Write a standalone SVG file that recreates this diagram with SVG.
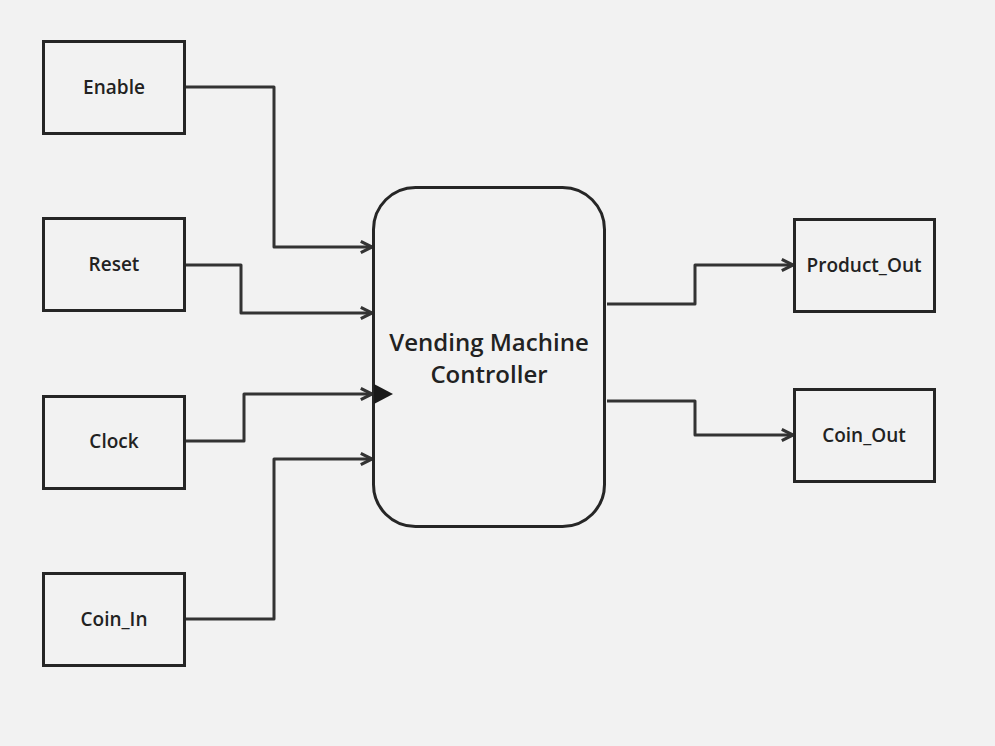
<svg xmlns="http://www.w3.org/2000/svg" width="995" height="746" viewBox="0 0 995 746">
<defs>
<style>
.box{fill:#f2f2f2;stroke:#262626;stroke-width:3}
.lbl{font-family:"Open Sans","Noto Sans",sans-serif;font-weight:600;font-size:19px;fill:#222;text-anchor:middle;dominant-baseline:central}
.big{font-size:24px}
.wire{fill:none;stroke:#333;stroke-width:3;stroke-linejoin:round;marker-end:url(#arr)}
</style>
<marker id="arr" viewBox="0 0 10 10" refX="9" refY="5" markerWidth="14" markerHeight="14" markerUnits="userSpaceOnUse" orient="auto">
<path d="M1,1 L9,5 L1,9" fill="none" stroke="#333" stroke-width="2.2" stroke-linejoin="miter"/>
</marker>
</defs>
<rect width="995" height="746" fill="#f2f2f2"/>
<g id="connectors">
<path class="wire" d="M186,87 H274 V247 H372"/>
<path class="wire" d="M186,265 H241 V313 H372"/>
<path class="wire" d="M186,441 H244 V394 H372"/>
<path class="wire" d="M186,619 H274 V459 H372"/>
<path class="wire" d="M607,304 H695 V265 H793"/>
<path class="wire" d="M607,401 H695 V435 H793"/>
</g>
<g id="enable"><rect class="box" x="43.5" y="41.5" width="141" height="92"/><text class="lbl" x="114" y="87">Enable</text></g>
<g id="reset"><rect class="box" x="43.5" y="218.5" width="141" height="92"/><text class="lbl" x="114" y="264">Reset</text></g>
<g id="clock"><rect class="box" x="43.5" y="396.5" width="141" height="92"/><text class="lbl" x="114" y="441">Clock</text></g>
<g id="coin_in"><rect class="box" x="43.5" y="573.5" width="141" height="92"/><text class="lbl" x="114" y="619">Coin_In</text></g>
<g id="controller"><rect class="box" x="373.5" y="187.5" width="231" height="339" rx="42" ry="42"/>
<path d="M374,384 L393,394 L374,404 Z" fill="#1a1a1a"/>
<text class="lbl big" x="489" y="341">Vending Machine</text><text class="lbl big" x="489" y="373">Controller</text></g>
<g id="product_out"><rect class="box" x="794.5" y="219.5" width="140" height="92"/><text class="lbl" x="864" y="265">Product_Out</text></g>
<g id="coin_out"><rect class="box" x="794.5" y="389.5" width="140" height="92"/><text class="lbl" x="864" y="435">Coin_Out</text></g>
</svg>
